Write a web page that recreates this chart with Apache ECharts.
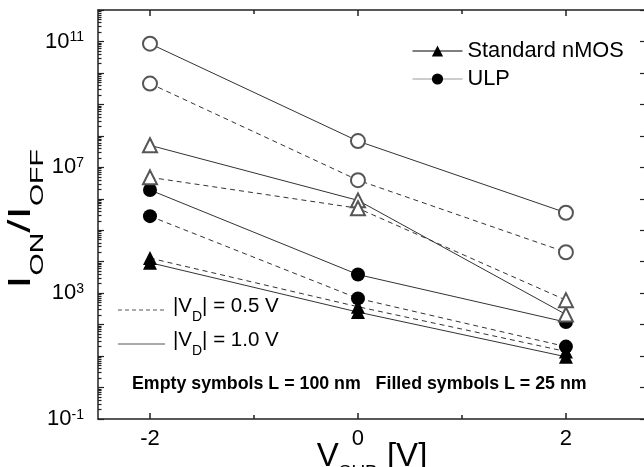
<!DOCTYPE html>
<html>
<head>
<meta charset="utf-8">
<script src="https://cdn.jsdelivr.net/npm/echarts@6/dist/echarts.min.js"></script>
<style>
  html, body { margin: 0; padding: 0; background: #fff; }
  #chart { width: 644px; height: 467px; }
</style>
</head>
<body>
<div id="chart"></div>
<script>
// Substrate bias (V)
const vSub = [-2, 0, 2];

// ION/IOFF ratio, standard nMOS
const nmosL25Vd10 = [9.3e3, 250, 9.5];
const nmosL25Vd05 = [1.3e4, 370, 14];
const nmosL100Vd10 = [5.0e7, 8.9e5, 210];
const nmosL100Vd05 = [4.8e6, 5.0e5, 600];

// ION/IOFF ratio, ULP device
const ulpL25Vd10 = [1.9e6, 3.9e3, 120];
const ulpL25Vd05 = [2.8e5, 680, 20];
const ulpL100Vd10 = [8.5e10, 6.8e7, 3.6e5];
const ulpL100Vd05 = [4.6e9, 3.9e6, 2.0e4];

// Axis ticks and labels
const xMajorTicks = [-2, 0, 2];
const xMinorTicks = [-1, 1];
const yLabelTicks = [1e-1, 1e3, 1e7, 1e11];
const yDecadeTicks = [1e-1, 1e0, 1e1, 1e2, 1e3, 1e4, 1e5, 1e6, 1e7, 1e8, 1e9, 1e10, 1e11, 1e12];
const yMinorTicks = [];
yDecadeTicks.slice(0, -1).forEach(d => {
  for (let k = 2; k <= 9; k++) yMinorTicks.push(d * k);
});

const FONT = 'Arial, "Liberation Sans", sans-serif';
const AXIS_COLOR = '#222';
const LINE_COLOR = '#333';
const EMPTY_COLOR = '#555';

function curve(name, values, shape, filled, dashed) {
  return {
    type: 'line',
    name: name,
    xAxisIndex: 0,
    yAxisIndex: 0,
    data: vSub.map((x, i) => [x, values[i]]),
    symbol: filled ? shape : 'empty' + shape.charAt(0).toUpperCase() + shape.slice(1),
    symbolSize: 14,
    showAllSymbol: true,
    itemStyle: { color: filled ? '#000' : EMPTY_COLOR, borderWidth: filled ? 0 : 1 },
    lineStyle: { color: LINE_COLOR, width: 1, type: dashed ? [5, 4] : 'solid' },
    emphasis: { disabled: true },
    z: filled ? 3 : 4
  };
}

const series = [
  curve('Standard nMOS', nmosL25Vd10, 'triangle', true, false),
  curve('Standard nMOS', nmosL25Vd05, 'triangle', true, true),
  curve('Standard nMOS', nmosL100Vd10, 'triangle', false, false),
  curve('Standard nMOS', nmosL100Vd05, 'triangle', false, true),
  curve('ULP', ulpL25Vd10, 'circle', true, false),
  curve('ULP', ulpL25Vd05, 'circle', true, true),
  curve('ULP', ulpL100Vd10, 'circle', false, false),
  curve('ULP', ulpL100Vd05, 'circle', false, true)
];

const X_MIN = -2.5, X_MAX = 2.77;
const Y_MIN = 1e-1, Y_MAX = 1e12;

function xAxisBase(position, ticks, len, showLine, labels) {
  return {
    type: 'value', min: X_MIN, max: X_MAX, position: position,
    axisLine: { show: showLine, onZero: false, lineStyle: { color: AXIS_COLOR, width: 1.5 } },
    axisTick: { show: true, inside: true, length: len, customValues: ticks, lineStyle: { color: AXIS_COLOR, width: 1.5 } },
    axisLabel: labels ? {
      customValues: ticks, fontSize: 22, fontFamily: FONT, color: '#000', margin: 9,
      formatter: v => String(v)
    } : { show: false },
    splitLine: { show: false }
  };
}

function yAxisBase(position, ticks, len, showLine) {
  return {
    type: 'log', logBase: 10, min: Y_MIN, max: Y_MAX, position: position,
    axisLine: { show: showLine, onZero: false, lineStyle: { color: AXIS_COLOR, width: 1.5 } },
    axisTick: { show: true, inside: true, length: len, customValues: ticks, lineStyle: { color: AXIS_COLOR, width: 1.2 } },
    axisLabel: { show: false },
    splitLine: { show: false }
  };
}

const xBottom = xAxisBase('bottom', xMajorTicks, 6, true, true);
xBottom.name = '{m|V}{s|SUB}{m| [V]}';
xBottom.nameLocation = 'middle';
xBottom.nameGap = 21;
xBottom.nameMoveOverlap = false;
xBottom.nameTextStyle = {
  fontFamily: FONT, color: '#000',
  rich: {
    m: { fontSize: 33, lineHeight: 42, verticalAlign: 'top', fontFamily: FONT, color: '#000' },
    s: { fontSize: 19, lineHeight: 19, verticalAlign: 'bottom', fontFamily: FONT, color: '#000' }
  }
};

const yLeft = yAxisBase('left', yDecadeTicks, 6, true);
yLeft.axisLabel = {
  show: true, customValues: yLabelTicks, margin: 14, fontFamily: FONT, color: '#000',
  formatter: v => '{b|10}{e|' + Math.round(Math.log10(v)) + '}',
  rich: {
    b: { fontSize: 22, lineHeight: 22, verticalAlign: 'bottom', fontFamily: FONT, color: '#000' },
    e: { fontSize: 14, lineHeight: 14, verticalAlign: 'top', fontFamily: FONT, color: '#000' }
  }
};

const option = {
  animation: false,
  backgroundColor: '#fff',
  textStyle: { fontFamily: FONT },
  grid: { left: 98, right: -2, top: 10, bottom: 48, containLabel: false, outerBoundsMode: 'none' },
  xAxis: [
    xBottom,
    xAxisBase('bottom', xMinorTicks, 4, false, false),
    xAxisBase('top', xMajorTicks, 6, true, false),
    xAxisBase('top', xMinorTicks, 4, false, false)
  ],
  yAxis: [
    yLeft,
    yAxisBase('left', yMinorTicks, 3.5, false),
    yAxisBase('right', yDecadeTicks, 6, true)
  ],
  legend: {
    orient: 'vertical',
    left: 407,
    top: 35,
    itemWidth: 50,
    itemHeight: 14,
    itemGap: 6,
    selectedMode: false,
    textStyle: { fontSize: 21.8, fontFamily: FONT, color: '#000' },
    data: [
      { name: 'Standard nMOS', itemStyle: { color: '#000' }, lineStyle: { color: '#000', width: 1, type: 'solid' } },
      { name: 'ULP', itemStyle: { color: '#000' }, lineStyle: { color: '#999', width: 1, type: 'solid' } }
    ]
  },
  graphic: [
    // y-axis title, drawn tall and narrow along its reading direction
    {
      type: 'text', x: 26, y: 219, rotation: Math.PI / 2, scaleX: 1.5,
      style: {
        text: '{m|I}{s|ON}{m|/I}{s|OFF}', align: 'center', verticalAlign: 'middle',
        rich: {
          m: { fontSize: 32, lineHeight: 42, verticalAlign: 'top', fontFamily: FONT, fill: '#000' },
          s: { fontSize: 19, lineHeight: 19, verticalAlign: 'bottom', fontFamily: FONT, fill: '#000' }
        }
      }
    },
    { type: 'line', shape: { x1: 118, y1: 310, x2: 165, y2: 310 }, style: { stroke: '#555', lineWidth: 1, lineDash: [4, 3] } },
    { type: 'line', shape: { x1: 118, y1: 344, x2: 165, y2: 344 }, style: { stroke: '#555', lineWidth: 1 } },
    {
      type: 'text', x: 173, y: 310,
      style: {
        text: '{m||V}{s|D}{m|| = 0.5 V}', verticalAlign: 'middle',
        rich: {
          m: { fontSize: 20.5, lineHeight: 28, verticalAlign: 'top', fontFamily: FONT, fill: '#000' },
          s: { fontSize: 14, lineHeight: 14, verticalAlign: 'bottom', fontFamily: FONT, fill: '#000' }
        }
      }
    },
    {
      type: 'text', x: 173, y: 344,
      style: {
        text: '{m||V}{s|D}{m|| = 1.0 V}', verticalAlign: 'middle',
        rich: {
          m: { fontSize: 20.5, lineHeight: 28, verticalAlign: 'top', fontFamily: FONT, fill: '#000' },
          s: { fontSize: 14, lineHeight: 14, verticalAlign: 'bottom', fontFamily: FONT, fill: '#000' }
        }
      }
    },
    {
      type: 'text', x: 132, y: 384,
      style: {
        text: 'Empty symbols L = 100 nm   Filled symbols L = 25 nm',
        verticalAlign: 'middle', fontSize: 17.8, fontWeight: 'bold', fontFamily: FONT, fill: '#000'
      }
    }
  ],
  series: series
};

const chart = echarts.init(document.getElementById('chart'), null, { renderer: 'canvas' });
chart.setOption(option);
</script>
</body>
</html>
